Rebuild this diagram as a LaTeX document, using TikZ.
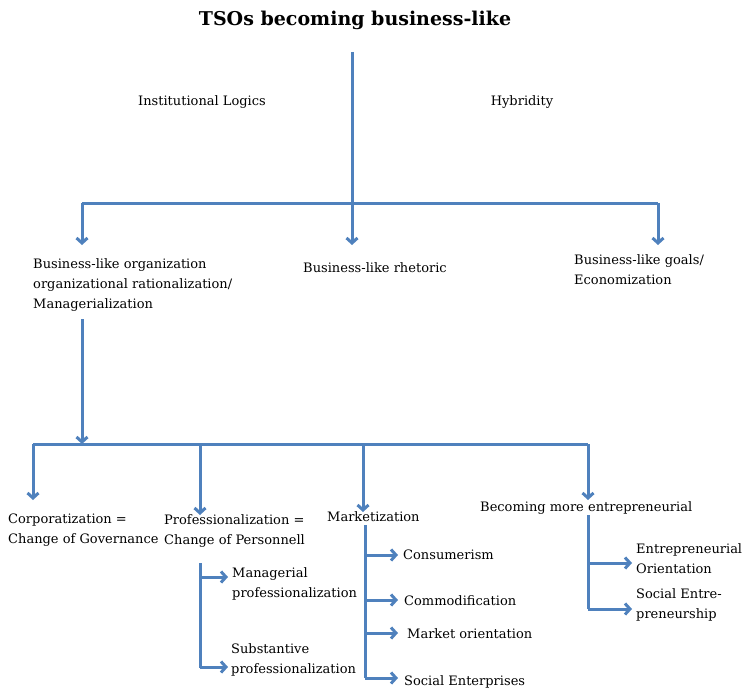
\documentclass[tikz,border=0pt]{standalone}
\usepackage{fontspec}
\setmainfont{DejaVu Serif}
\usetikzlibrary{arrows.meta}
\definecolor{lineblue}{RGB}{79,129,189}
\tikzset{
  link/.style={draw=lineblue,line width=3pt},
  arr/.style={link,-{Straight Barb[length=5pt,width=11pt]}},
  lbl/.style={font=\fontsize{13}{20}\selectfont,inner sep=0pt,align=left}
}
\begin{document}
\begin{tikzpicture}[x=1pt,y=-1pt]
\useasboundingbox (0,0) rectangle (744,690);
\node[font=\fontsize{19}{24}\selectfont\bfseries,inner sep=0pt] (title) at (355,20) {TSOs becoming business-like};
\node[lbl] (inst) at (202,102) {Institutional Logics};
\node[lbl] (hyb) at (522,102) {Hybridity};

% first level
\node[lbl,anchor=north west] (org) at (33,258) {Business-like organization\\organizational rationalization/\\Managerialization};
\node[lbl,anchor=west] (rhet) at (303,268) {Business-like rhetoric};
\node[lbl,anchor=north west] (goals) at (574,254) {Business-like goals/\\Economization};
\coordinate (j1) at (352,203);
\draw[link] (352,52) -- (j1);
\draw[link] (82,203) -- (658,203);
\foreach \x in {82,352,658}\draw[arr] (\x,203) -- (\x,245);

% second level
\node[lbl,anchor=north west] (corp) at (8,514) {Corporatization =\\Change of Governance};
\node[lbl,anchor=north west] (prof) at (164,514) {Professionalization =\\Change of Personnell};
\node[lbl,anchor=west] (mkt) at (327,517) {Marketization};
\node[lbl,anchor=west] (entr) at (480,508) {Becoming more entrepreneurial};
\coordinate (j2) at (82,444);
\draw[arr] (org.south -| j2) ++(0,8) -- (j2);
\draw[link] (33,444) -- (588,444);
\draw[arr] (33,444) -- (33,500);
\draw[arr] (200,444) -- (200,515);
\draw[arr] (363,444) -- (363,512);
\draw[arr] (588,444) -- (588,500);

% professionalization
\node[lbl,anchor=north west] (manp) at (232,567) {Managerial\\professionalization};
\node[lbl,anchor=north west] (subp) at (231,643) {Substantive\\professionalization};
\coordinate (pv) at (200,563);
\draw[link] (pv) -- (200,668);
\draw[arr] (200,577) -- (228,577);
\draw[arr] (200,667) -- (228,667);

% marketization
\node[lbl,anchor=west] (cons) at (403,555) {Consumerism};
\node[lbl,anchor=west] (comm) at (404,601) {Commodification};
\node[lbl,anchor=west] (mor) at (407,634) {Market orientation};
\node[lbl,anchor=west] (soc) at (404,682) {Social Enterprises};
\coordinate (mv) at (365,525);
\draw[link] (mv) -- (365,678);
\foreach \y in {555,600,633,678}\draw[arr] (365,\y) -- (398,\y);

% entrepreneurial
\node[lbl,anchor=north west] (eo) at (636,543) {Entrepreneurial\\Orientation};
\node[lbl,anchor=north west] (se) at (636,588) {Social Entre-\\preneurship};
\coordinate (ev) at (588,515);
\draw[link] (ev) -- (588,609);
\draw[arr] (588,563) -- (632,563);
\draw[arr] (588,609) -- (632,609);
\end{tikzpicture}
\end{document}
